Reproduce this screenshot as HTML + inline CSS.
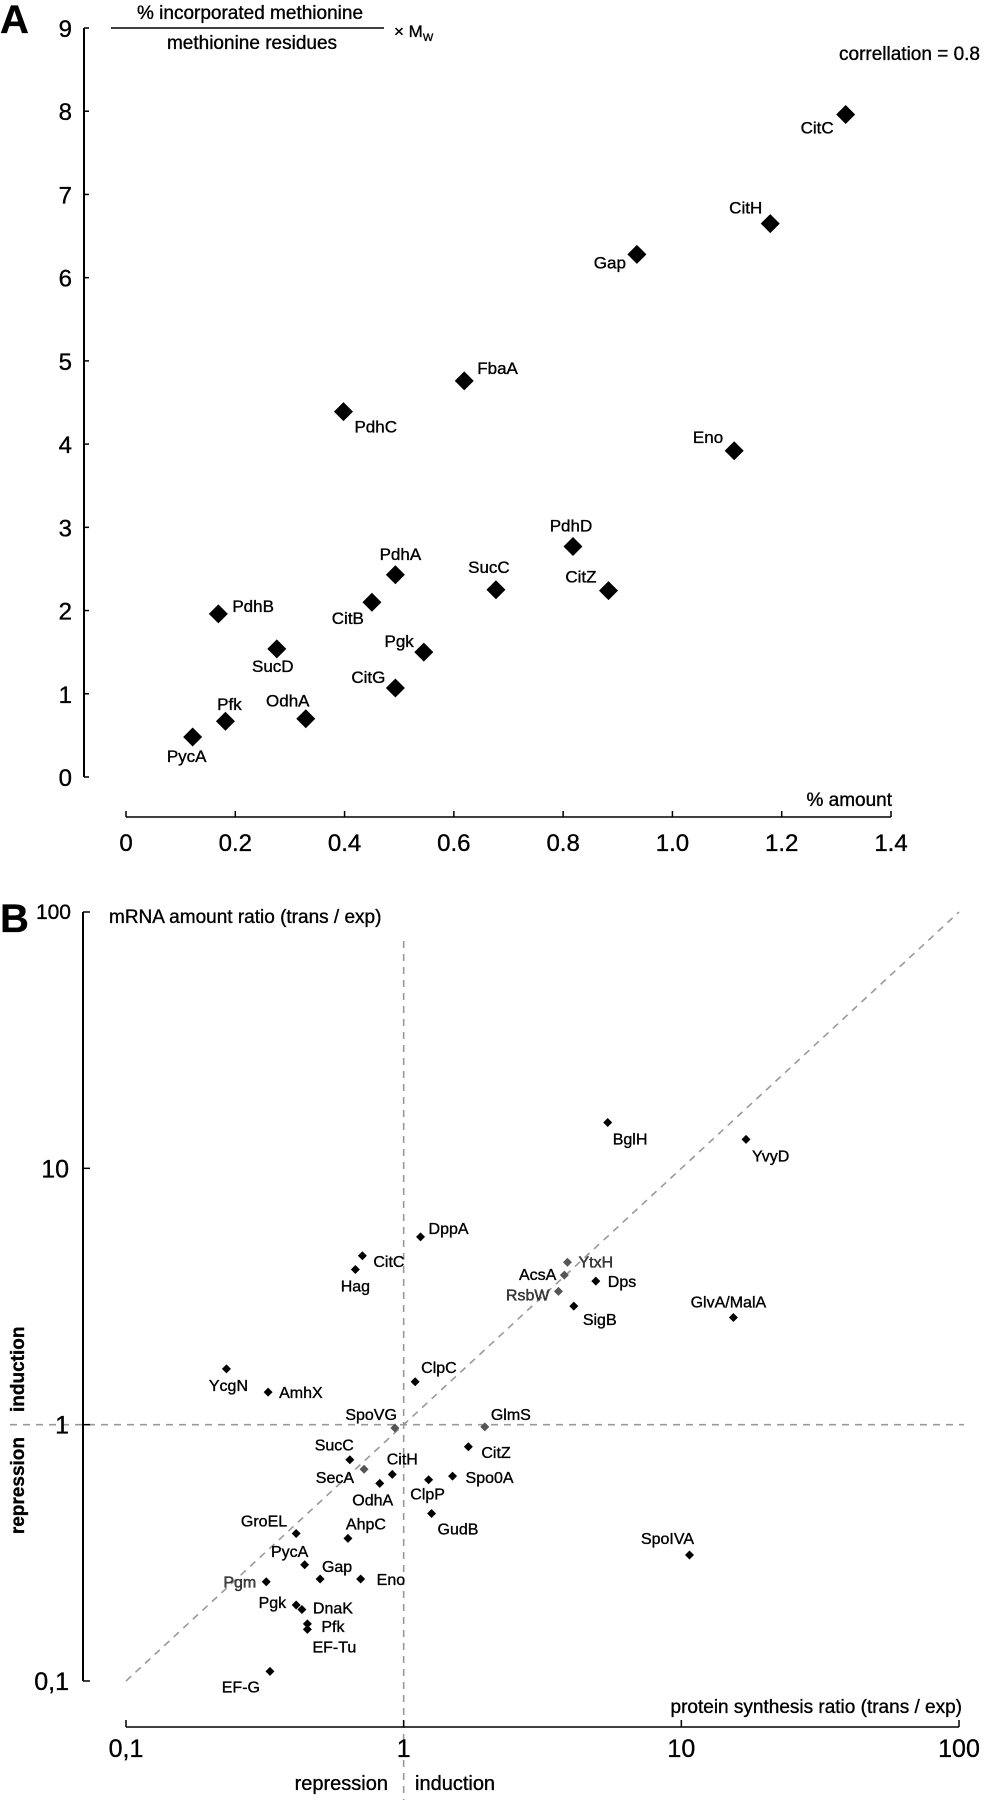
<!DOCTYPE html>
<html><head><meta charset="utf-8">
<style>
html,body{margin:0;padding:0;background:#fff;}
svg{display:block;font-family:"Liberation Sans",Arial,sans-serif;}
svg text{stroke:#000;stroke-width:0.35px;}
</style></head>
<body>
<svg id="fig" width="989" height="1800" viewBox="0 0 989 1800" xmlns="http://www.w3.org/2000/svg">
  <g id="panelA">
    <text x="0" y="33" font-size="40" font-weight="bold">A</text>
    <text x="250" y="19" font-size="19" text-anchor="middle">% incorporated methionine</text>
    <line x1="111" y1="28" x2="384" y2="28" stroke="#000" stroke-width="1.5"/>
    <text x="252" y="49" font-size="19" text-anchor="middle">methionine residues</text>
    <text x="394" y="37" font-size="17">× M<tspan font-size="11" dy="4">W</tspan></text>
    <text x="980" y="60" font-size="19" text-anchor="end">correllation = 0.8</text>
    <text x="892" y="806" font-size="19" text-anchor="end">% amount</text>
  </g>
  <g id="panelB">
    <text x="0" y="932" font-size="40" font-weight="bold">B</text>
    <text x="109" y="923" font-size="19">mRNA amount ratio (trans / exp)</text>
    <text x="962" y="1713" font-size="19" text-anchor="end">protein synthesis ratio (trans / exp)</text>
    <text x="388" y="1790" font-size="20" text-anchor="end">repression</text>
    <text x="415" y="1790" font-size="20">induction</text>
    <text transform="translate(24,1412) rotate(-90)" font-size="19" font-weight="bold">induction</text>
    <text transform="translate(24,1437) rotate(-90)" font-size="19" font-weight="bold" text-anchor="end">repression</text>
  </g>
</svg>
<script>
// ---------- Panel A data ----------
const aNames = ["CitC","CitH","Gap","FbaA","PdhC","Eno","PdhD","CitZ","SucC","PdhA","CitB","PdhB","SucD","Pgk","CitG","OdhA","Pfk","PycA"];
const aX = [1.317,1.179,0.935,0.619,0.398,1.113,0.818,0.883,0.677,0.493,0.450,0.169,0.276,0.545,0.493,0.329,0.182,0.122];
const aY = [7.96,6.65,6.28,4.76,4.39,3.92,2.77,2.24,2.25,2.43,2.10,1.96,1.54,1.50,1.07,0.70,0.67,0.48];
const aXTicks = [0,0.2,0.4,0.6,0.8,1.0,1.2,1.4];
const aXTickLabels = ["0","0.2","0.4","0.6","0.8","1.0","1.2","1.4"];
const aYTicks = [0,1,2,3,4,5,6,7,8,9];
// label placement (style, not data): anchor, dx, dy
const aLabelStyle = [["end",-12,13],["end",-8,-16],["end",-11,8],["start",13,-13],["start",11,15],["end",-11,-14],["middle",-2,-21],["end",-12,-14],["middle",-7,-23],["middle",5,-21],["end",-8,16],["start",14,-8],["middle",-4,17],["end",-10,-11],["end",-10,-11],["middle",-18,-18],["middle",4,-17],["middle",-6,19]];

// ---------- Panel B data ----------
const bNames = ["BglH","YvyD","DppA","CitC","Hag","YtxH","AcsA","Dps","RsbW","SigB","GlvA/MalA","ClpC","YcgN","AmhX","SpoVG","GlmS","SucC","CitZ","SecA","CitH","Spo0A","ClpP","OdhA","GudB","GroEL","AhpC","SpoIVA","PycA","Gap","Eno","Pgm","Pgk","DnaK","Pfk","EF-Tu","EF-G"];
const bX = [5.43,17.1,1.15,0.71,0.67,3.89,3.79,4.92,3.61,4.10,15.4,1.10,0.23,0.325,0.93,1.96,0.64,1.71,0.72,0.91,1.50,1.23,0.82,1.26,0.41,0.63,10.7,0.44,0.50,0.70,0.32,0.41,0.43,0.45,0.45,0.33];
const bY = [15.1,12.97,5.40,4.56,4.03,4.30,3.83,3.63,3.31,2.90,2.62,1.47,1.65,1.34,0.97,0.98,0.73,0.82,0.67,0.64,0.63,0.61,0.59,0.45,0.376,0.36,0.31,0.284,0.25,0.25,0.244,0.198,0.19,0.167,0.159,0.109];
const bGrey = ["YtxH","RsbW","SecA","SpoVG","GlmS","AcsA"];
const bTicks = [0.1,1,10,100];
const bXTickLabels = ["0,1","1","10","100"];
const bYTickLabels = ["0,1","1","10","100"];
const bLabelStyle = [["start",5,16],["start",6,16],["start",8,-9],["start",11,5],["middle",0,16],["start",11,-1],["end",-8,-1],["start",12,0],["end",-9,3],["start",9,13],["middle",-5,-16],["start",6,-15],["middle",2,16],["start",11,0],["end",2,-14],["start",6,-13],["end",4,-15],["start",13,5],["end",-10,8],["middle",10,-16],["start",13,1],["middle",-1,14],["middle",-7,16],["start",6,15],["end",-9,-13],["middle",18,-15],["middle",-22,-17],["middle",-15,-14],["middle",17,-13],["start",16,0],["end",-10,0],["end",-10,-3],["start",11,-2],["start",14,2],["middle",27,17],["end",-10,15]];

const NS = "http://www.w3.org/2000/svg";
function mk(tag, attrs, parent){
  const e = document.createElementNS(NS, tag);
  for (const k in attrs) e.setAttribute(k, attrs[k]);
  parent.appendChild(e);
  return e;
}
function diamond(cx, cy, r){ return `M${cx},${cy-r} L${cx+r},${cy} L${cx},${cy+r} L${cx-r},${cy} Z`; }

// ---------- Panel A ----------
const gA = document.getElementById("panelA");
const axA = {x0:126, x1:891, xmin:0, xmax:1.4, y0:777, y1:28, ymin:0, ymax:9};
const sxA = v => axA.x0 + (v-axA.xmin)/(axA.xmax-axA.xmin)*(axA.x1-axA.x0);
const syA = v => axA.y0 - (v-axA.ymin)/(axA.ymax-axA.ymin)*(axA.y0-axA.y1);
const yAxA = mk("line",{x1:84,y1:syA(0),x2:84,y2:syA(9),stroke:"#000","stroke-width":2},gA);


aYTicks.forEach(v=>{
  const t = mk("line",{x1:84,y1:syA(v),x2:89,y2:syA(v),stroke:"#000","stroke-width":1.5},gA);
  
  
  const l = mk("text",{x:72,y:syA(v)+9,"font-size":24,"text-anchor":"end"},gA);
  l.textContent = String(v);
  
  
});
const xAxA = mk("line",{x1:sxA(0),y1:817,x2:sxA(1.4),y2:817,stroke:"#000","stroke-width":1.5},gA);


aXTicks.forEach((v,i)=>{
  const t = mk("line",{x1:sxA(v),y1:817,x2:sxA(v),y2:811,stroke:"#000","stroke-width":1.5},gA);
  
  
  const l = mk("text",{x:sxA(v),y:851,"font-size":24,"text-anchor":"middle"},gA);
  l.textContent = aXTickLabels[i];
  
  
});
aNames.forEach((n,i)=>{
  const cx = sxA(aX[i]), cy = syA(aY[i]);
  const p = mk("path",{d:diamond(cx,cy,9.5),fill:"#000"},gA);
  
  
  const s = aLabelStyle[i];
  const t = mk("text",{x:cx+s[1],y:cy+s[2]+6,"font-size":17,"text-anchor":s[0]},gA);
  t.textContent = n;
  
  
});

// ---------- Panel B ----------
const gB = document.getElementById("panelB");
const axB = {x0:126, x1:959, y0:1681, y1:912};
const sxB = v => axB.x0 + (Math.log10(v)+1)/3*(axB.x1-axB.x0);
const syB = v => axB.y0 - (Math.log10(v)+1)/3*(axB.y0-axB.y1);
const dash = {stroke:"#999","stroke-width":1.6,"stroke-dasharray":"7,6",fill:"none"};
const dDiag = mk("line",Object.assign({x1:sxB(0.1),y1:syB(0.1),x2:sxB(100),y2:syB(100)},dash),gB);


const dV = mk("line",Object.assign({x1:sxB(1),y1:941,x2:sxB(1),y2:1800},dash),gB);


const dH = mk("line",Object.assign({x1:10,y1:syB(1),x2:964,y2:syB(1)},dash),gB);


const yAxB = mk("line",{x1:83,y1:syB(0.1),x2:83,y2:syB(100),stroke:"#000","stroke-width":2},gB);


const xAxB = mk("line",{x1:sxB(0.1),y1:1727,x2:sxB(100),y2:1727,stroke:"#000","stroke-width":1.5},gB);


bTicks.forEach((v,i)=>{
  const t = mk("line",{x1:83,y1:syB(v),x2:90,y2:syB(v),stroke:"#000","stroke-width":1.5},gB);
  
  
  const l = mk("text",{x:i===3?71:69,y:syB(v)+(i===3?7:9),"font-size":i===3?21:25,"text-anchor":"end"},gB);
  l.textContent = bYTickLabels[i];
  
  
  const tx = mk("line",{x1:sxB(v),y1:1727,x2:sxB(v),y2:1720,stroke:"#000","stroke-width":1.5},gB);
  
  
  const lx = mk("text",{x:sxB(v),y:1757,"font-size":25,"text-anchor":"middle"},gB);
  lx.textContent = bXTickLabels[i];
  
  
});
bNames.forEach((n,i)=>{
  const cx = sxB(bX[i]), cy = syB(bY[i]);
  const grey = bGrey.indexOf(n) >= 0;
  const p = mk("path",{d:diamond(cx,cy,4.5),fill:grey?"#555":"#000"},gB);
  
  
  const s = bLabelStyle[i];
  const t = mk("text",{x:cx+s[1],y:cy+s[2]+6,"font-size":16,"text-anchor":s[0],fill:(n==="YtxH"||n==="RsbW"||n==="Pgm")?"#444":"#000"},gB);
  t.textContent = n;
  
  
});
</script>
</body></html>
